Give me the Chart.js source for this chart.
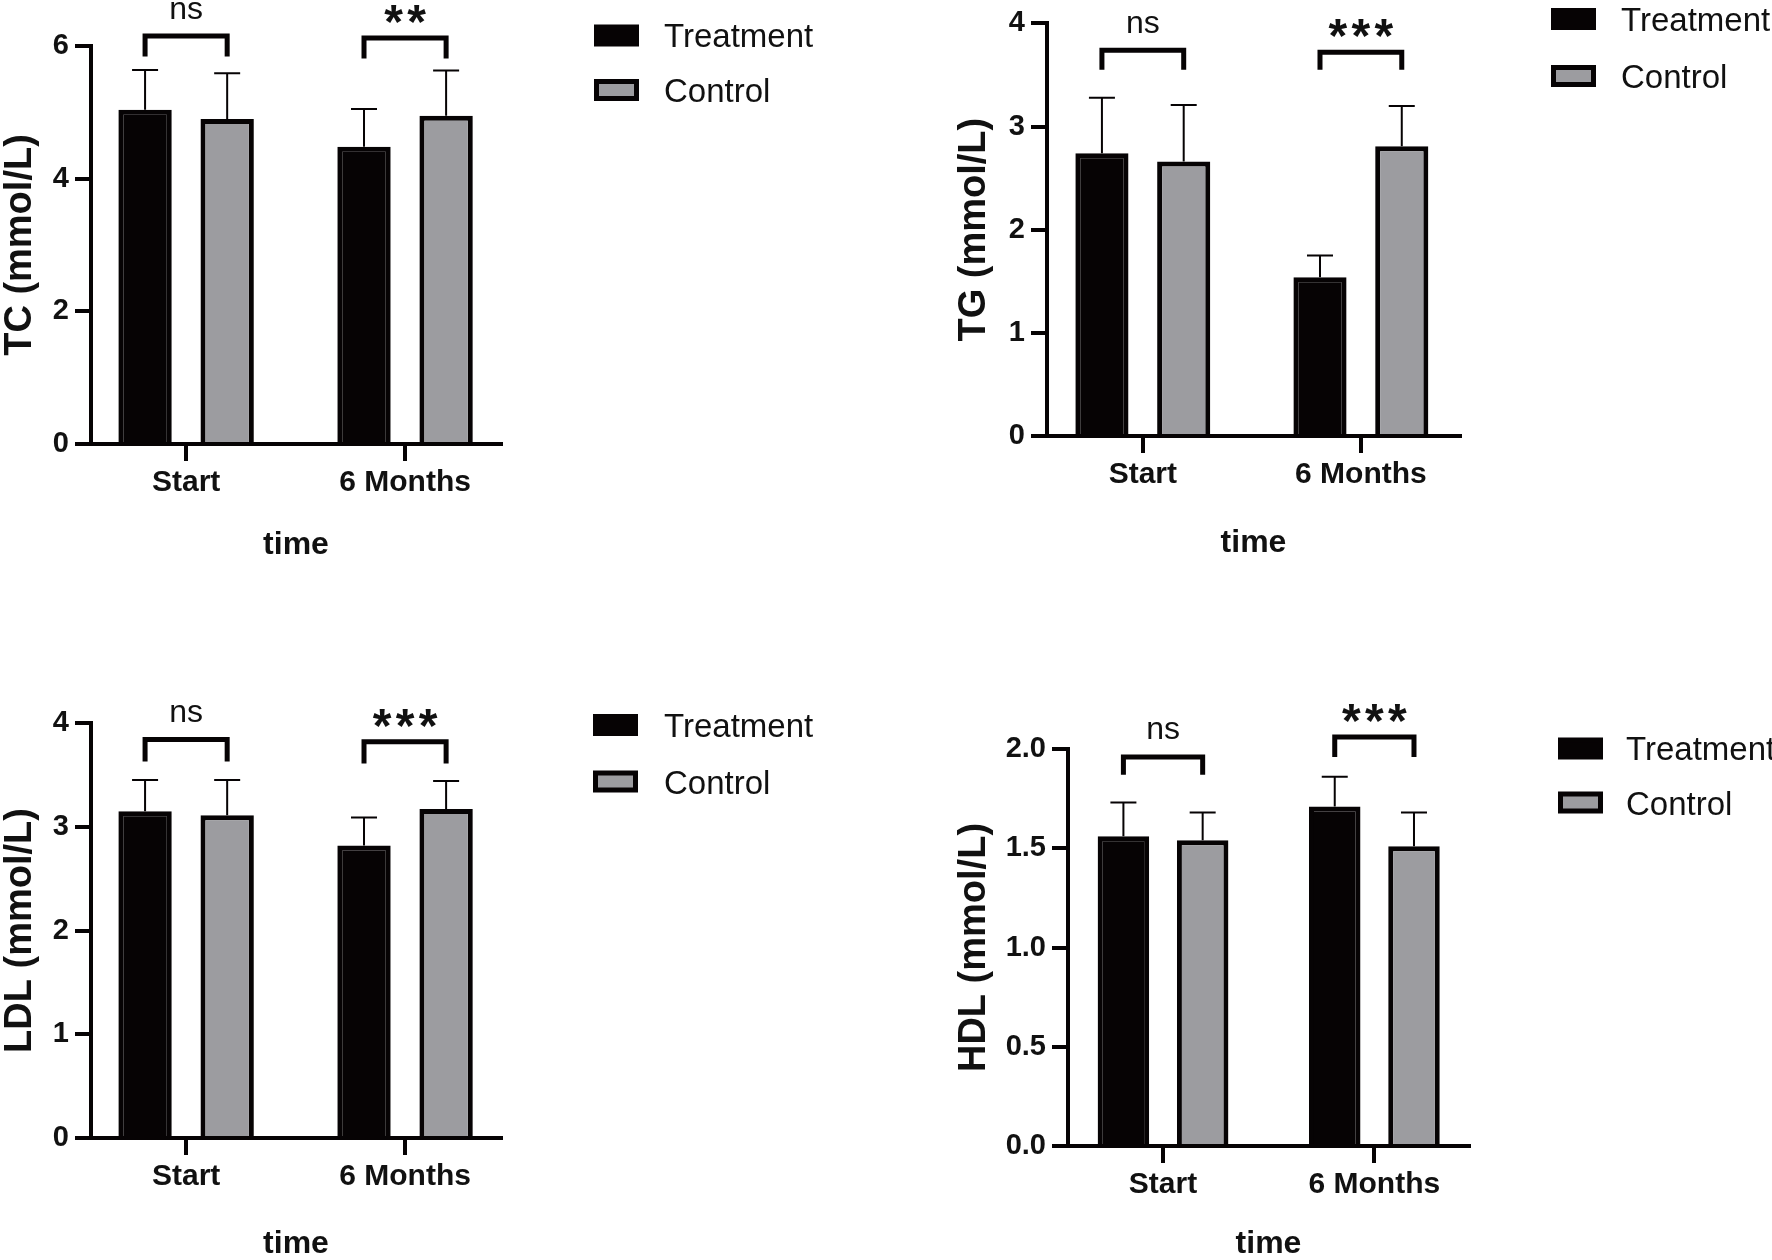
<!DOCTYPE html>
<html>
<head>
<meta charset="utf-8">
<title>Lipid profile</title>
<script src="https://cdn.jsdelivr.net/npm/chart.js@4.4.0/dist/chart.umd.min.js"></script>
<style>
  html, body { margin: 0; padding: 0; background: #fff; }
  body { width: 1772px; height: 1260px; position: relative; overflow: hidden; }
  canvas { position: absolute; width: 886px; height: 630px; }
</style>
</head>
<body>
<canvas id="tc" width="886" height="630" style="left:0;top:0"></canvas>
<canvas id="tg" width="886" height="630" style="left:886px;top:0"></canvas>
<canvas id="ldl" width="886" height="630" style="left:0;top:630px"></canvas>
<canvas id="hdl" width="886" height="630" style="left:886px;top:630px"></canvas>
<script>
var categories = ['Start', '6 Months'];
var seriesNames = ['Treatment', 'Control'];

// TC
var tcTreatment = [5.04, 4.48];
var tcTreatmentSd = [0.60, 0.57];
var tcControl = [4.90, 4.95];
var tcControlSd = [0.69, 0.68];
var tcSig = ['ns', '**'];
var tcBracketTop = [6.15, 6.12];
var tcBracketLeg = [5.84, 5.81];

// TG
var tgTreatment = [2.74, 1.54];
var tgTreatmentSd = [0.54, 0.21];
var tgControl = [2.66, 2.81];
var tgControlSd = [0.55, 0.39];
var tgSig = ['ns', '***'];
var tgBracketTop = [3.74, 3.72];
var tgBracketLeg = [3.55, 3.55];

// LDL
var ldlTreatment = [3.15, 2.82];
var ldlTreatmentSd = [0.30, 0.27];
var ldlControl = [3.11, 3.17];
var ldlControlSd = [0.34, 0.27];
var ldlSig = ['ns', '***'];
var ldlBracketTop = [3.84, 3.82];
var ldlBracketLeg = [3.63, 3.61];

// HDL
var hdlTreatment = [1.56, 1.71];
var hdlTreatmentSd = [0.17, 0.15];
var hdlControl = [1.54, 1.51];
var hdlControlSd = [0.14, 0.17];
var hdlSig = ['ns', '***'];
var hdlBracketTop = [1.96, 2.06];
var hdlBracketLeg = [1.87, 1.96];

var FONT = '"Liberation Sans", Arial, Helvetica, sans-serif';
var BLACK = '#060304';
var GREY = '#9c9ca0';
var TEXT = '#111111';

Chart.defaults.font.family = FONT;
Chart.defaults.color = TEXT;

function inkText(ctx, text, x, y) {
    var m = ctx.measureText(text);
    ctx.fillText(text, x, y + (m.actualBoundingBoxAscent - m.actualBoundingBoxDescent) / 2);
}

var extrasPlugin = {
    id: 'extras',
    // the groups sit a bit further apart than the category scale puts them
    afterLayout: function (chart, args, opts) {
        var x = chart.scales.x;
        var f = opts.xFrac;
        x._valueRange = 1 / (f[1] - f[0]);
        x._startValue = -f[0] * x._valueRange;
    },
    afterDatasetsDraw: function (chart, args, opts) {
        var ctx = chart.ctx;
        var yScale = chart.scales.y;
        ctx.save();

        // error bars (mean + SD, upper only)
        ctx.strokeStyle = BLACK;
        ctx.lineWidth = 2;
        chart.data.datasets.forEach(function (ds, i) {
            chart.getDatasetMeta(i).data.forEach(function (bar, j) {
                var top = yScale.getPixelForValue(ds.data[j] + ds.sd[j]);
                ctx.beginPath();
                ctx.moveTo(bar.x, bar.y);
                ctx.lineTo(bar.x, top);
                ctx.moveTo(bar.x - 13, top);
                ctx.lineTo(bar.x + 13, top);
                ctx.stroke();
            });
        });

        // significance brackets
        var m0 = chart.getDatasetMeta(0), m1 = chart.getDatasetMeta(1);
        ctx.lineWidth = 5;
        ctx.lineJoin = 'miter';
        ctx.fillStyle = TEXT;
        ctx.textAlign = 'center';
        opts.sig.forEach(function (s, j) {
            var x0 = m0.data[j].x, x1 = m1.data[j].x;
            var yt = yScale.getPixelForValue(opts.top[j]);
            var yl = yScale.getPixelForValue(opts.leg[j]);
            ctx.beginPath();
            ctx.moveTo(x0, yl);
            ctx.lineTo(x0, yt);
            ctx.lineTo(x1, yt);
            ctx.lineTo(x1, yl);
            ctx.stroke();
            var cx = (x0 + x1) / 2;
            if (s.indexOf('*') >= 0) {
                ctx.font = 'bold 48px ' + FONT;
                for (var k = 0; k < s.length; k++) {
                    inkText(ctx, '*', cx + (k - (s.length - 1) / 2) * 23, yt - 24);
                }
            } else {
                ctx.font = '32px ' + FONT;
                inkText(ctx, s, cx, yt - 26);
            }
        });

        // legend
        var lg = opts.legend;
        ctx.textAlign = 'left';
        ctx.font = '33px ' + FONT;
        chart.data.datasets.forEach(function (ds, i) {
            var cy = lg.y[i];
            ctx.fillStyle = ds.borderColor;
            ctx.fillRect(lg.x, cy - 11, 45, 22);
            ctx.fillStyle = ds.backgroundColor;
            ctx.fillRect(lg.x + 5, cy - 6, 35, 12);
            ctx.fillStyle = TEXT;
            inkText(ctx, ds.label, lg.tx, cy);
        });
        ctx.restore();
    }
};

function makeChart(id, cfg) {
    return new Chart(document.getElementById(id), {
        type: 'bar',
        data: {
            labels: categories,
            datasets: [{
                label: seriesNames[0],
                data: cfg.treatment,
                sd: cfg.treatmentSd,
                backgroundColor: BLACK,
                borderColor: BLACK,
                borderWidth: 5,
                categoryPercentage: 0.75,
                barPercentage: 0.65
            }, {
                label: seriesNames[1],
                data: cfg.control,
                sd: cfg.controlSd,
                backgroundColor: GREY,
                borderColor: BLACK,
                borderWidth: 5,
                categoryPercentage: 0.75,
                barPercentage: 0.65
            }]
        },
        options: {
            responsive: false,
            animation: false,
            devicePixelRatio: 1,
            layout: {
                padding: cfg.padding
            },
            plugins: {
                legend: { display: false },
                tooltip: { enabled: false },
                extras: {
                    xFrac: cfg.xFrac,
                    sig: cfg.sig,
                    top: cfg.bracketTop,
                    leg: cfg.bracketLeg,
                    legend: cfg.legend
                }
            },
            scales: {
                x: {
                    grid: {
                        offset: false,
                        drawOnChartArea: false,
                        tickLength: 17,
                        lineWidth: 4,
                        tickWidth: 4,
                        tickColor: BLACK
                    },
                    border: { width: 4, color: BLACK },
                    ticks: {
                        font: { size: 30, weight: 'bold' },
                        color: TEXT,
                        padding: 4,
                        maxRotation: 0
                    },
                    title: {
                        display: true,
                        text: 'time',
                        font: { size: 32, weight: 'bold', lineHeight: 1.0 },
                        color: TEXT,
                        padding: 0
                    },
                    afterFit: function (s) { s.height = cfg.xHeight; }
                },
                y: {
                    min: 0,
                    max: cfg.max,
                    grid: {
                        drawOnChartArea: false,
                        tickLength: 16,
                        lineWidth: 4,
                        tickWidth: 4,
                        tickColor: BLACK
                    },
                    border: { width: 4, color: BLACK },
                    ticks: {
                        stepSize: cfg.step,
                        font: { size: 29, weight: 'bold' },
                        color: TEXT,
                        padding: 6,
                        callback: function (v) { return cfg.step < 1 ? v.toFixed(1) : v; }
                    },
                    title: {
                        display: true,
                        text: cfg.title,
                        font: { size: 38, weight: 'bold', lineHeight: 1.1 },
                        color: TEXT,
                        padding: 0
                    },
                    afterFit: function (s) { s.width = cfg.yWidth; }
                }
            }
        },
        plugins: [extrasPlugin]
    });
}

makeChart('tc', {
    treatment: tcTreatment, treatmentSd: tcTreatmentSd,
    control: tcControl, controlSd: tcControlSd,
    sig: tcSig, bracketTop: tcBracketTop, bracketLeg: tcBracketLeg,
    title: 'TC (mmol/L)', max: 6, step: 2,
    padding: { left: 0, top: 46, right: 385, bottom: 69 },
    yWidth: 91, xHeight: 117, xFrac: [0.232, 0.766],
    legend: { x: 594, y: [35.5, 90], tx: 664 }
});

makeChart('tg', {
    treatment: tgTreatment, treatmentSd: tgTreatmentSd,
    control: tgControl, controlSd: tgControlSd,
    sig: tgSig, bracketTop: tgBracketTop, bracketLeg: tgBracketLeg,
    title: 'TG (mmol/L)', max: 4, step: 1,
    padding: { left: 68, top: 17, right: 312, bottom: 71 },
    yWidth: 93, xHeight: 123, xFrac: [0.232, 0.760],
    legend: { x: 665, y: [19, 76], tx: 735 }
});

makeChart('ldl', {
    treatment: ldlTreatment, treatmentSd: ldlTreatmentSd,
    control: ldlControl, controlSd: ldlControlSd,
    sig: ldlSig, bracketTop: ldlBracketTop, bracketLeg: ldlBracketLeg,
    title: 'LDL (mmol/L)', max: 4, step: 1,
    padding: { left: 0, top: 93, right: 385, bottom: 0 },
    yWidth: 91, xHeight: 122, xFrac: [0.232, 0.766],
    legend: { x: 593, y: [95, 151.5], tx: 664 }
});

makeChart('hdl', {
    treatment: hdlTreatment, treatmentSd: hdlTreatmentSd,
    control: hdlControl, controlSd: hdlControlSd,
    sig: hdlSig, bracketTop: hdlBracketTop, bracketLeg: hdlBracketLeg,
    title: 'HDL (mmol/L)', max: 2, step: 0.5,
    padding: { left: 68, top: 119, right: 303, bottom: 0 },
    yWidth: 114, xHeight: 114, xFrac: [0.237, 0.764],
    legend: { x: 672, y: [118.5, 172.5], tx: 740 }
});
</script>
</body>
</html>
